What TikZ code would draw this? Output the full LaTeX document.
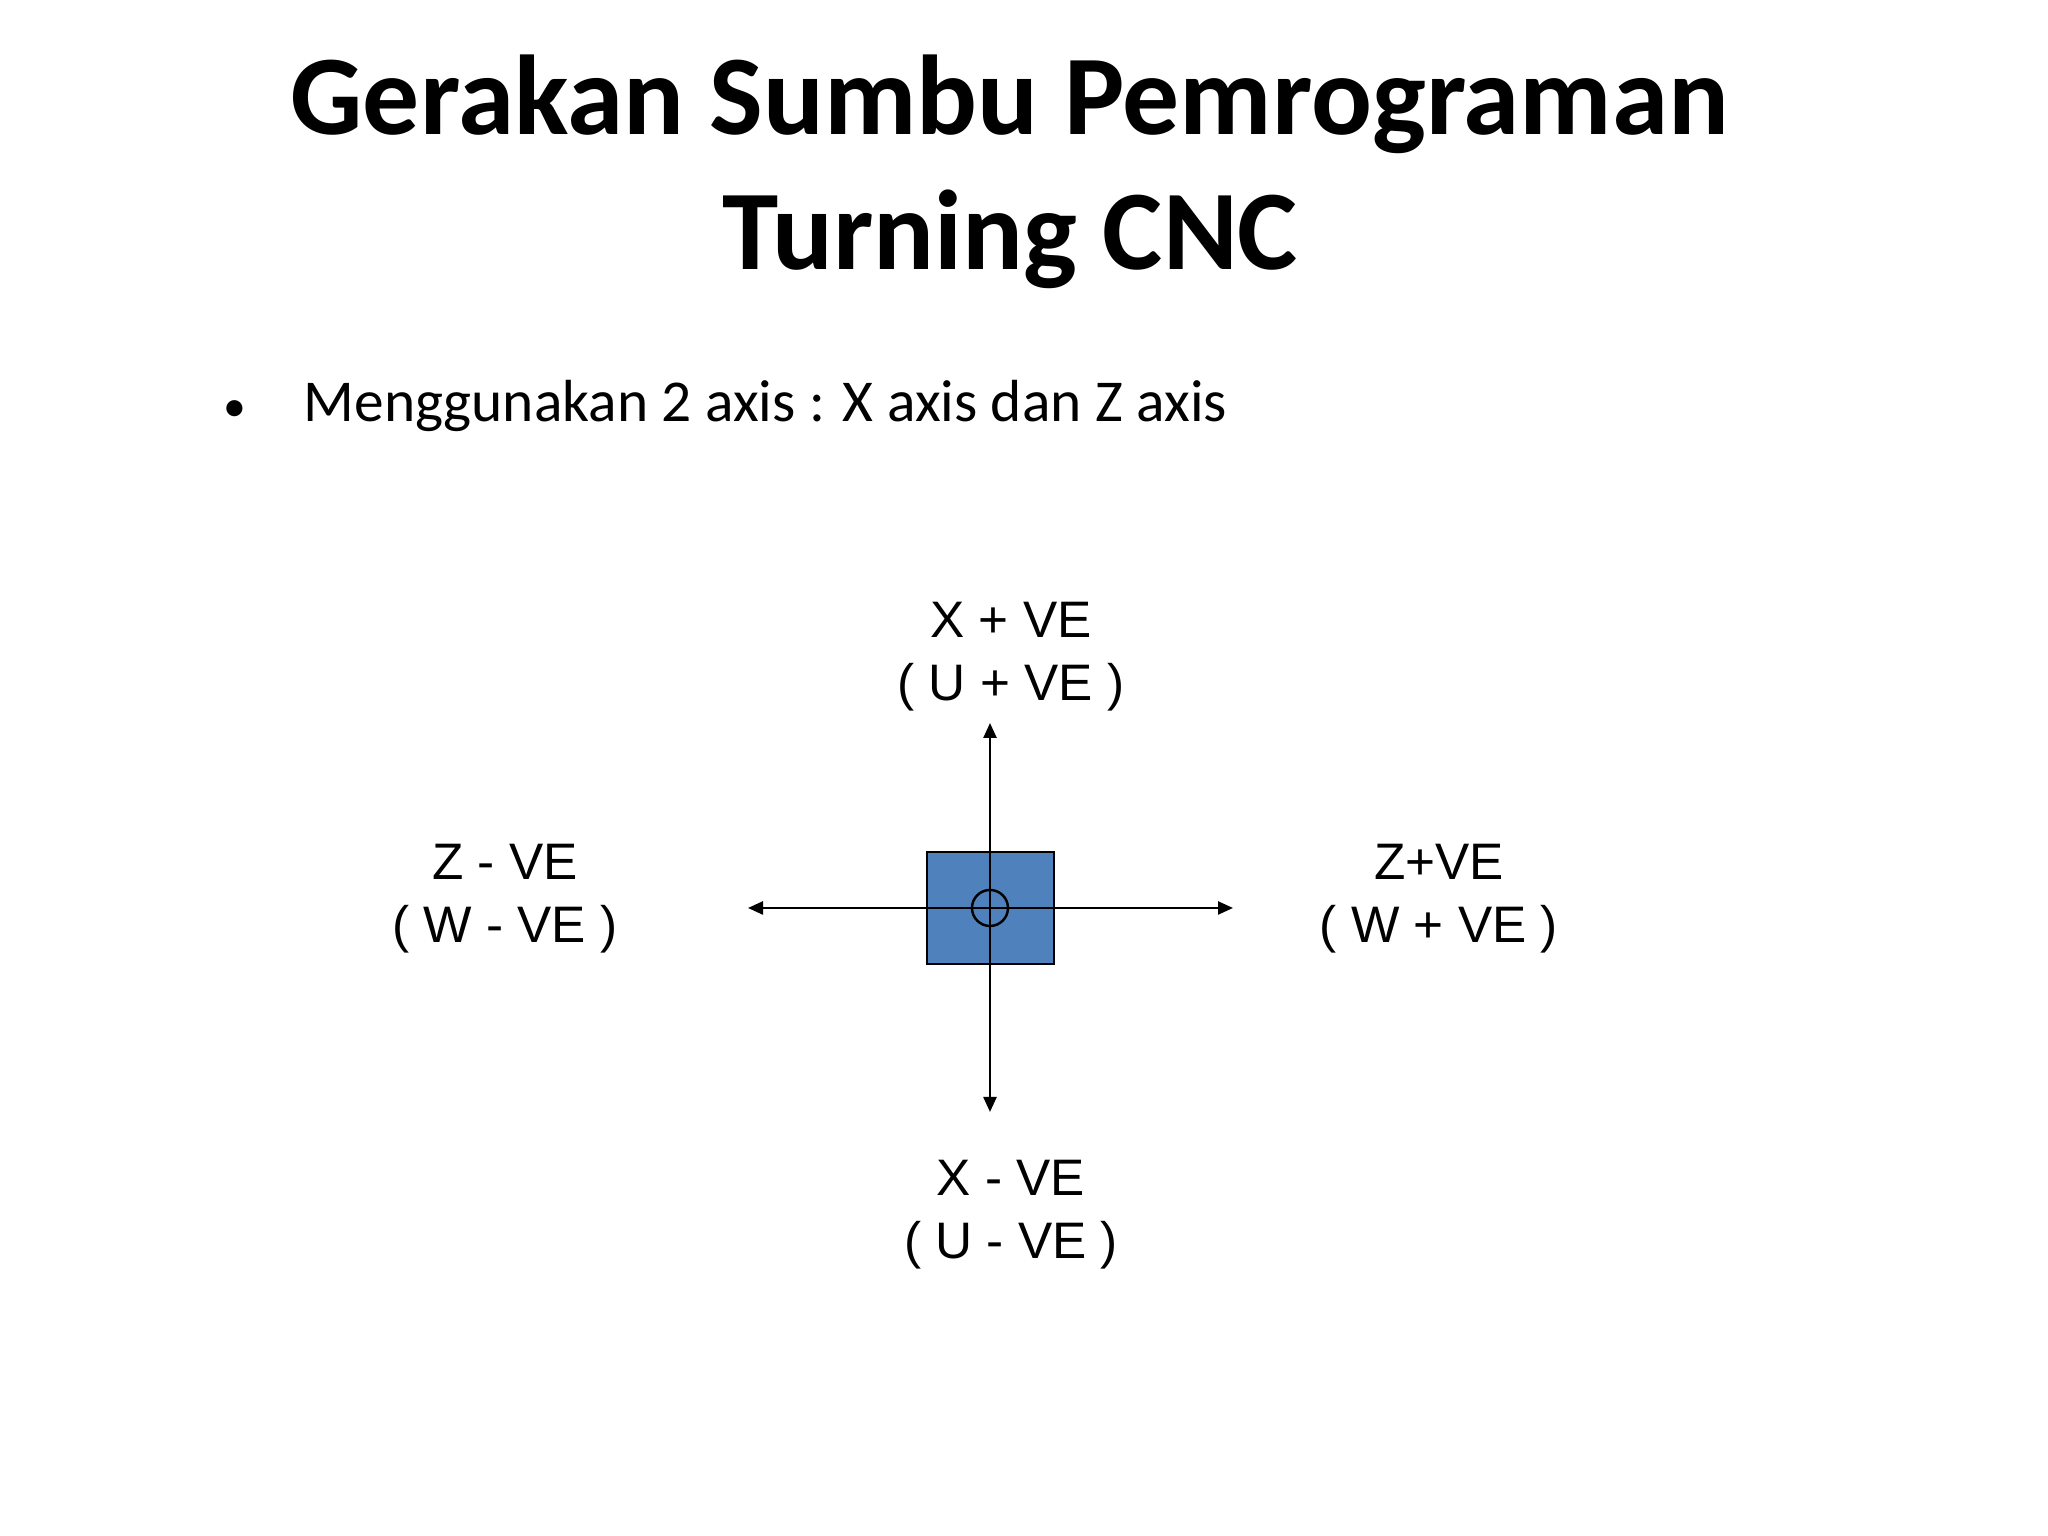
\documentclass[tikz,border=0pt]{standalone}
\usepackage{fontspec}
\setmainfont{Carlito}
\newfontfamily\labelfont{Liberation Sans}
\usetikzlibrary{arrows.meta}
\definecolor{boxblue}{RGB}{79,129,189}
\tikzset{
  axislabel/.style={align=center,font=\labelfont\fontsize{14.6}{17.9}\selectfont},
  axisarrow/.style={line width=0.7pt,-{Triangle[length=0.15cm,width=0.13cm]}}
}
\begin{document}
\begin{tikzpicture}
  \useasboundingbox (0,0) rectangle (20.48,15.36);
  % title and bullet
  \node[anchor=base,align=center,font=\fontsize{32.3}{38.6}\selectfont\bfseries] (title) at (10.1,12.66) {Gerakan Sumbu Pemrograman\\Turning CNC};
  \node[anchor=base,font=\fontsize{13}{16}\selectfont] (dot) at (2.35,11.14) {\textbullet};
  \node[anchor=base west,inner sep=0pt,font=\fontsize{16.9}{20}\selectfont] (axes) at (3.03,11.14) {Menggunakan 2 axis : X axis dan Z axis};
  % workpiece with axes
  \node[draw,fill=boxblue,line width=0.7pt,minimum width=1.27cm,minimum height=1.12cm] (part) at (9.905,6.28) {};
  \coordinate (origin) at (9.9,6.28);
  \coordinate (xup) at (9.9,8.13);
  \coordinate (xdown) at (9.9,4.24);
  \coordinate (zleft) at (7.48,6.28);
  \coordinate (zright) at (12.33,6.28);
  \draw[axisarrow] (origin) -- (xup);
  \draw[axisarrow] (origin) -- (xdown);
  \draw[axisarrow] (origin) -- (zleft);
  \draw[axisarrow] (origin) -- (zright);
  \draw[line width=0.7pt] (origin) circle (0.18);
  % labels
  \node[axislabel] (xplus) at (10.11,8.795) {X + VE\\( U + VE )};
  \node[axislabel] (xminus) at (10.11,3.215) {X - VE\\( U - VE )};
  \node[axislabel] (zminus) at (5.05,6.375) {Z - VE\\( W - VE )};
  \node[axislabel] (zplus) at (14.39,6.375) {Z+VE\\( W + VE )};
\end{tikzpicture}
\end{document}
